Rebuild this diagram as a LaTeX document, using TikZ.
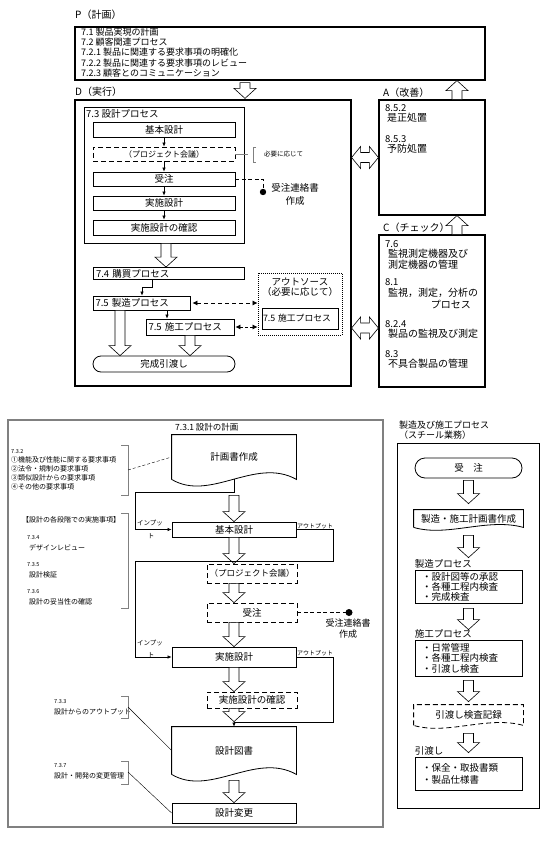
\documentclass[tikz,border=0pt]{standalone}
\usepackage{fontspec}
\setmainfont{Noto Sans CJK JP}
\usetikzlibrary{arrows.meta,calc,positioning}

\tikzset{
  box/.style={draw, line width=0.8pt, inner sep=0pt, font=\fontsize{9.5}{11}\selectfont},
  dbox/.style={box, dash pattern=on 5pt off 3pt},
  frame/.style={draw, line width=1.2pt, inner sep=0pt},
  hollow/.style={draw, line width=0.6pt, fill=white},
  txt/.style={inner sep=0pt, font=\fontsize{9.5}{10.5}\selectfont, align=left},
  note/.style={inner sep=0pt, font=\fontsize{7}{9}\selectfont, align=left},
  tiny/.style={inner sep=0pt, font=\fontsize{5.5}{7}\selectfont, align=left},
  conn/.style={line width=0.6pt, -{Latex[length=4pt,width=3.5pt]}},
  brk/.style={draw=gray, line width=0.8pt},
}

% hollow block arrows
\newcommand{\harrowdown}[2]{%
  \draw[hollow] let \p1=#1, \p2=#2 in
    (\x2-5pt,\y1) -- (\x2-5pt,\y2+10pt) -- (\x2-11pt,\y2+10pt) -- (\x2,\y2)
    -- (\x2+11pt,\y2+10pt) -- (\x2+5pt,\y2+10pt) -- (\x2+5pt,\y1) -- cycle;}
\newcommand{\harrowup}[2]{%
  \draw[hollow] let \p1=#1, \p2=#2 in
    (\x2-5pt,\y1) -- (\x2-5pt,\y2-10pt) -- (\x2-11pt,\y2-10pt) -- (\x2,\y2)
    -- (\x2+11pt,\y2-10pt) -- (\x2+5pt,\y2-10pt) -- (\x2+5pt,\y1) -- cycle;}
\newcommand{\harrowlr}[2]{%
  \draw[hollow] let \p1=#1, \p2=#2 in
    (\x1,\y1) -- (\x1+9pt,\y1+11pt) -- (\x1+9pt,\y1+5pt) -- (\x2-9pt,\y1+5pt)
    -- (\x2-9pt,\y1+11pt) -- (\x2,\y1) -- (\x2-9pt,\y1-11pt) -- (\x2-9pt,\y1-5pt)
    -- (\x1+9pt,\y1-5pt) -- (\x1+9pt,\y1-11pt) -- cycle;}
% document shape round a node
\newcommand{\docshape}[3][]{%
  \draw[line width=0.8pt,#1] (#2.south west) -- (#2.north west) -- (#2.north east) -- (#2.south east)
    .. controls ($(#2.south east)!0.33!(#2.south west)+(0,-#3)$)
    and ($(#2.south east)!0.69!(#2.south west)+(0,#3)$) .. (#2.south west);}

\begin{document}
\begin{tikzpicture}[x=1pt,y=-1pt]
  \useasboundingbox (0,0) rectangle (550,845);

  % ---------- P ----------
  \node[txt, anchor=west, font=\fontsize{10}{11}\selectfont] (lblP) at (75,15) {P（計画）};
  \node[frame, minimum width=410, minimum height=53] (boxP) at (280,53.5) {};
  \node[txt, anchor=north west, font=\fontsize{9}{10.3}\selectfont] (ptext) at (81,27.5)
    {7.1 製品実現の計画\\7.2 顧客関連プロセス\\7.2.1 製品に関連する要求事項の明確化\\7.2.2 製品に関連する要求事項のレビュー\\7.2.3 顧客とのコミュニケーション};

  % ---------- D ----------
  \node[txt, anchor=west, font=\fontsize{10}{11}\selectfont] (lblD) at (75,92) {D（実行）};
  \node[frame, minimum width=276, minimum height=286] (boxD) at (213,243) {};
  \node[box, minimum width=160, minimum height=136] (box73) at (164,175) {};
  \node[txt, anchor=west] at (86,113.5) {7.3 設計プロセス};
  \node[box, minimum width=142, minimum height=15] (kihonA) at (164,129.5) {基本設計};
  \node[dbox, minimum width=142, minimum height=14, font=\fontsize{8}{10}\selectfont] (projA) at (164,154) {（プロジェクト会議）};
  \node[box, minimum width=142, minimum height=14] (juchuA) at (164,179) {受注};
  \node[box, minimum width=142, minimum height=14] (jisshiA) at (164,203) {実施設計};
  \node[box, minimum width=142, minimum height=15] (kakuninA) at (164,227.5) {実施設計の確認};
  \draw[conn] (kihonA.south) -- (projA.north);
  \draw[conn] (projA.south) -- (juchuA.north);
  \draw[conn] (juchuA.south) -- (jisshiA.north);
  \draw[conn] (jisshiA.south) -- (kakuninA.north);

  % as needed
  \draw[gray, line width=0.6pt] (projA.east) -- (248,154);
  \draw[brk] (256,147) -- (253,147) -- (253,162) -- (256,162);
  \node[tiny, anchor=west, font=\fontsize{6.5}{8}\selectfont] at (264,154) {必要に応じて};

  % order notice
  \coordinate (dotA) at (263,192);
  \draw[dash pattern=on 4pt off 2.5pt, line width=0.8pt] (juchuA.east) -| (dotA);
  \fill (dotA) circle (3.2);
  \node[txt, align=center, font=\fontsize{9.5}{12.5}\selectfont] at (295,194.5) {受注連絡書\\作成};

  \node[box, minimum width=151, minimum height=12, text width=145pt, inner xsep=3pt, align=left] (kobai) at (168.5,273.5) {7.4 購買プロセス};
  \node[box, minimum width=97, minimum height=14, text width=92pt, inner xsep=2.5pt, align=left] (seizo) at (141.5,303) {7.5 製造プロセス};
  \node[box, minimum width=88, minimum height=16, text width=83pt, inner xsep=2.5pt, align=left] (seko) at (190,327) {7.5 施工プロセス};
  \node[draw, dash pattern=on 1pt off 1pt, line width=0.8pt, minimum width=84, minimum height=62] (outsrc) at (300,304) {};
  \node[txt, align=center] at (300,287) {アウトソース\\（必要に応じて）};
  \node[box, minimum width=76, minimum height=21, text width=74pt, inner xsep=1pt, align=left, font=\fontsize{8.8}{10}\selectfont] (seko2) at (300,318.5) {7.5 施工プロセス};
  \node[box, rounded corners=8, minimum width=142, minimum height=16] (kansei) at (164,364) {完成引渡し};

  \harrowdown{($(boxP.south -| 245,0)+(0,2)$)}{($(boxD.north -| 245,0)+(0,-1)$)}
  \harrowdown{(box73.south -| 166,0)}{(kobai.north -| 166,0)}
  \draw[conn] (kobai.south -| 152,0) |- (142,287) -- (seizo.north -| 142,0);
  \draw[conn] (seizo.south -| 167,0) -- (seko.north -| 167,0);
  \draw[dash pattern=on 4pt off 3pt, line width=0.7pt, {Latex[length=5pt,width=5pt]}-{Latex[length=5pt,width=5pt]}]
    ([xshift=2pt]seizo.east) -- (seizo.east -| outsrc.west);
  \draw[dash pattern=on 3pt off 2pt, line width=0.7pt, {Latex[length=5pt,width=5pt]}-{Latex[length=5pt,width=5pt]}]
    ([xshift=1pt]seko.east) -- (seko.east -| outsrc.west);
  \harrowdown{(seizo.south -| 120,0)}{(kansei.north -| 120,0)}
  \harrowdown{(seko.south)}{(kansei.north -| seko.south)}

  % ---------- A ----------
  \node[txt, anchor=west, font=\fontsize{10}{11}\selectfont] (lblA) at (383,93) {A（改善）};
  \node[frame, minimum width=106, minimum height=115] (boxA) at (432,157.5) {};
  \node[txt, anchor=west] at (385,108) {8.5.2};
  \node[txt, anchor=west, font=\fontsize{10}{11}\selectfont] at (387,118) {是正処置};
  \node[txt, anchor=west] at (385,139) {8.5.3};
  \node[txt, anchor=west, font=\fontsize{10}{11}\selectfont] at (387,149) {予防処置};

  % ---------- C ----------
  \node[txt, anchor=west, font=\fontsize{10}{11}\selectfont] (lblC) at (383,228) {C（チェック）};
  \node[frame, minimum width=106, minimum height=152] (boxC) at (432,311) {};
  \node[txt, anchor=west] at (385,244) {7.6};
  \node[txt, anchor=north west, font=\fontsize{10}{10.5}\selectfont] at (388,249) {監視測定機器及び\\測定機器の管理};
  \node[txt, anchor=west] at (385,282) {8.1};
  \node[txt, anchor=west, font=\fontsize{10}{11}\selectfont] at (388,293) {監視，測定，分析の};
  \node[txt, anchor=east, font=\fontsize{10}{11}\selectfont] at (471,305) {プロセス};
  \node[txt, anchor=west] at (385,324) {8.2.4};
  \node[txt, anchor=west, font=\fontsize{10}{11}\selectfont] at (388,334) {製品の監視及び測定};
  \node[txt, anchor=west] at (385,354) {8.3};
  \node[txt, anchor=west, font=\fontsize{10}{11}\selectfont] at (388,364) {不具合製品の管理};

  \harrowup{(boxA.north -| 457,0)}{(boxP.south -| 457,0)}
  \harrowup{(boxC.north -| 457,0)}{(boxA.south -| 457,0)}
  \harrowlr{(boxD.east |- boxA.west)}{(boxA.west)}
  \harrowlr{(boxD.east |- 0,328)}{(boxC.west |- 0,328)}

  % ---------- 7.3.1 design planning ----------
  \node[draw=gray, line width=1.5pt, minimum width=375, minimum height=407] (bigL) at (195.5,623.5) {};
  \node[txt, anchor=west, font=\fontsize{8.5}{10}\selectfont] at (175,427) {7.3.1 設計の計画};
  \coordinate (colx) at (234,0);
  \coordinate (inx) at (135,0);

  \node[box, draw=none, minimum width=124, minimum height=44] (docK) at (234,457) {計画書作成};
  \docshape{docK}{23}
  \node[box, minimum width=124, minimum height=15] (kihonB) at (234,529.5) {基本設計};
  \node[dbox, minimum width=90, minimum height=19, font=\fontsize{8.5}{10}\selectfont] (projB) at (252,573.5) {（プロジェクト会議）};
  \node[dbox, minimum width=90, minimum height=19] (juchuB) at (252,612.5) {受注};
  \node[box, minimum width=124, minimum height=20] (jisshiB) at (234,657) {実施設計};
  \node[dbox, minimum width=90, minimum height=16] (kakuninB) at (252,700) {実施設計の確認};
  \node[box, draw=none, minimum width=124, minimum height=47] (sekkei) at (234,750.5) {設計図書};
  \docshape{sekkei}{23}
  \node[box, minimum width=124, minimum height=20] (henko) at (234,813) {設計変更};

  \harrowdown{($(docK.south)+(0,16)$)}{(kihonB.north)}
  \harrowdown{(kihonB.south)}{(projB.north -| colx)}
  \harrowdown{(projB.south -| colx)}{(juchuB.north -| colx)}
  \harrowdown{(juchuB.south -| colx)}{(jisshiB.north)}
  \harrowdown{(jisshiB.south)}{(kakuninB.north -| colx)}
  \harrowdown{(kakuninB.south -| colx)}{($(sekkei.north)+(0,-5)$)}
  \harrowdown{($(sekkei.south)+(0,6)$)}{(henko.north)}

  % inputs and outputs
  \draw[conn] (docK.south) -- ++(0,13) -| (inx |- kihonB.west) -- (kihonB.west);
  \draw[conn] (kihonB.east) -| (333,561) -| (inx |- jisshiB.west) -- (jisshiB.west);
  \draw[conn] (jisshiB.east) -| (333,722) -| (sekkei.north);
  \node[tiny, font=\fontsize{6.5}{8}\selectfont] at (150,523) {インプッ};
  \node[tiny, font=\fontsize{6.5}{8}\selectfont] at (151,536) {ト};
  \node[tiny, font=\fontsize{6.5}{8}\selectfont] at (150,643) {インプッ};
  \node[tiny, font=\fontsize{6.5}{8}\selectfont] at (151,655) {ト};
  \node[tiny, anchor=south, font=\fontsize{6}{8}\selectfont] at (315,529) {アウトプット};
  \node[tiny, anchor=south, font=\fontsize{6}{8}\selectfont] at (315,656) {アウトプット};

  % order notice
  \coordinate (dotB) at (349,612.5);
  \draw[dash pattern=on 4pt off 2.5pt, line width=0.9pt] (juchuB.east) -- (dotB);
  \fill (dotB) circle (3.5);
  \node[txt, align=center, font=\fontsize{9}{11}\selectfont] at (348,629) {受注連絡書\\作成};

  % side notes
  \node[note, anchor=west, font=\fontsize{5.5}{7}\selectfont] at (11,452) {7.3.2};
  \node[note, anchor=north west] at (11,456.5) {①機能及び性能に関する要求事項\\②法令・規制の要求事項\\③類似設計からの要求事項\\④その他の要求事項};
  \draw[brk] (121,445) -| (128,495) -- (121,495);
  \draw[densely dashed, line width=0.4pt] (128,470) -- (docK.west);

  \node[note, anchor=west] at (22,520) {【設計の各段階での実施事項】};
  \draw[brk] (121,513) -| (128,608) -- (121,608);
  \node[note, anchor=west, font=\fontsize{5.5}{7}\selectfont] at (27,538) {7.3.4};
  \node[note, anchor=west] at (29,548) {デザインレビュー};
  \node[note, anchor=west, font=\fontsize{5.5}{7}\selectfont] at (27,565) {7.3.5};
  \node[note, anchor=west] at (29,575) {設計検証};
  \node[note, anchor=west, font=\fontsize{5.5}{7}\selectfont] at (27,592) {7.3.6};
  \node[note, anchor=west] at (29,602) {設計の妥当性の確認};

  \node[note, anchor=west, font=\fontsize{5.5}{7}\selectfont] at (54,702) {7.3.3};
  \node[note, anchor=west] at (54,712) {設計からのアウトプット};
  \draw[brk] (121,696) -| (128,718) -- (121,718);
  \draw[line width=0.4pt] (128,707) -- (sekkei.west);
  \node[note, anchor=west, font=\fontsize{5.5}{7}\selectfont] at (54,766) {7.3.7};
  \node[note, anchor=west] at (54,776) {設計・開発の変更管理};
  \draw[brk] (121,761) -| (128,784) -- (121,784);
  \draw[line width=0.4pt] (128,772) -- (henko.west);

  % ---------- steel works ----------
  \node[txt, anchor=north west, font=\fontsize{9}{10}\selectfont] at (399,421) {製造及び施工プロセス\\（スチール業務）};
  \node[draw, line width=0.8pt, minimum width=142, minimum height=365] (boxR) at (468,625.5) {};
  \node[box, rounded corners=10, minimum width=107, minimum height=20] (juchuC) at (468.5,468) {受　注};
  \node[box, draw=none, minimum width=109, minimum height=17] (docR) at (468.5,518.5) {製造・施工計画書作成};
  \docshape{docR}{10}
  \node[box, minimum width=107, minimum height=33, text width=93pt, inner xsep=7pt, align=left, font=\fontsize{9.5}{10}\selectfont] (seizoC) at (468.5,586.5) {・設計図等の承認\\・各種工程内検査\\・完成検査};
  \node[txt, anchor=south west] at ([yshift=1pt]seizoC.north west) {製造プロセス};
  \node[box, minimum width=107, minimum height=36, text width=93pt, inner xsep=7pt, align=left, font=\fontsize{9.5}{10.5}\selectfont] (sekoC) at (468.5,658) {・日常管理\\・各種工程内検査\\・引渡し検査};
  \node[txt, anchor=south west] at ([yshift=1pt]sekoC.north west) {施工プロセス};
  \node[box, draw=none, minimum width=109, minimum height=20] (hikiDoc) at (468.5,715) {引渡し検査記録};
  \docshape[dash pattern=on 5pt off 3pt]{hikiDoc}{10}
  \node[box, minimum width=107, minimum height=33, text width=93pt, inner xsep=7pt, align=left, font=\fontsize{9.5}{12}\selectfont] (watashiC) at (468.5,773.5) {・保全・取扱書類\\・製品仕様書};
  \node[txt, anchor=south west] at ([yshift=1pt]watashiC.north west) {引渡し};

  \harrowdown{($(juchuC.south)+(0,2)$)}{($(docR.north)+(0,-6)$)}
  \harrowdown{($(docR.south)+(0,8)$)}{($(seizoC.north)+(0,-12)$)}
  \harrowdown{($(seizoC.south)+(0,5)$)}{($(sekoC.north)+(0,-10)$)}
  \harrowdown{($(sekoC.south)+(0,4)$)}{($(hikiDoc.north)+(0,-3)$)}
  \harrowdown{($(hikiDoc.south)+(0,8)$)}{($(watashiC.north)+(0,-4)$)}
\end{tikzpicture}
\end{document}
